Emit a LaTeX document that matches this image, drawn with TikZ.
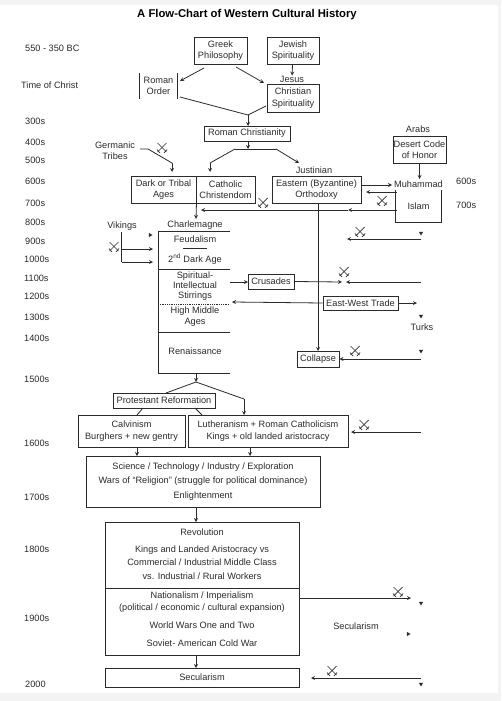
\documentclass[tikz,border=0pt]{standalone}
\usepackage{fontspec}
\setmainfont{Liberation Sans}
\usetikzlibrary{shapes.geometric}
\definecolor{inkc}{HTML}{2B2B2B}
\definecolor{edgec}{HTML}{F3F3F3}
\tikzset{
  lbl/.style={inner sep=0pt, align=center, text=inkc, font=\fontsize{9.2}{11.5}\selectfont},
  yearlbl/.style={lbl, anchor=west},
  box/.style={lbl, rectangle, draw=inkc, line width=0.9pt},
  arr/.style={line width=0.8pt, ->, >=stealth, color=inkc},
  plainline/.style={line width=0.8pt, color=inkc},
  headdown/.style={regular polygon, regular polygon sides=3, minimum size=5pt, inner sep=0pt, fill=inkc, shape border rotate=180},
  headright/.style={headdown, shape border rotate=270},
  swords/.pic={
    \draw [line width=0.7pt, color=inkc] (-4.5pt,5pt) -- (4.5pt,-4pt);
    \draw [line width=0.7pt, color=inkc] (4.5pt,5pt) -- (-4.5pt,-4pt);
    \draw [line width=0.7pt, color=inkc] (-5pt,-1.5pt) -- (-2pt,-5pt);
    \draw [line width=0.7pt, color=inkc] (5pt,-1.5pt) -- (2pt,-5pt);
  }
}
\begin{document}
\begin{tikzpicture}
\useasboundingbox (0pt,0pt) rectangle (501pt,-701pt);
\fill [edgec] (0pt,0pt) rectangle (501pt,-701pt);
\fill [white] (0pt,-5pt) rectangle (498pt,-693pt);
% title and time column
\node (title) [lbl, font=\fontsize{11.3}{13}\selectfont\bfseries, text=black] at (247pt,-15pt) {A Flow-Chart of Western Cultural History};
\node (t550) [yearlbl] at (25pt,-48pt) {550 - 350 BC};
\node (tchrist) [yearlbl] at (21pt,-85pt) {Time of Christ};
\node (t300) [yearlbl] at (25pt,-121pt) {300s};
\node (t400) [yearlbl] at (25pt,-142pt) {400s};
\node (t500) [yearlbl] at (25pt,-160pt) {500s};
\node (t600) [yearlbl] at (25pt,-181pt) {600s};
\node (t700) [yearlbl] at (25pt,-203pt) {700s};
\node (t800) [yearlbl] at (25pt,-222pt) {800s};
\node (t900) [yearlbl] at (25pt,-241pt) {900s};
\node (t1000) [yearlbl] at (24pt,-259pt) {1000s};
\node (t1100) [yearlbl] at (24pt,-278pt) {1100s};
\node (t1200) [yearlbl] at (24pt,-296pt) {1200s};
\node (t1300) [yearlbl] at (24pt,-317pt) {1300s};
\node (t1400) [yearlbl] at (24pt,-338pt) {1400s};
\node (t1500) [yearlbl] at (24pt,-379pt) {1500s};
\node (t1600) [yearlbl] at (24pt,-443pt) {1600s};
\node (t1700) [yearlbl] at (24pt,-497pt) {1700s};
\node (t1800) [yearlbl] at (24pt,-549pt) {1800s};
\node (t1900) [yearlbl] at (24pt,-618pt) {1900s};
\node (t2000) [yearlbl] at (25pt,-684pt) {2000};
\node (r600) [yearlbl] at (456pt,-181pt) {600s};
\node (r700) [yearlbl] at (456pt,-205pt) {700s};
% antiquity
\node (greek) [box, minimum width=53pt, minimum height=27pt] at (220.5pt,-50.5pt) {Greek\\Philosophy};
\node (jewish) [box, minimum width=52pt, minimum height=27pt] at (293pt,-50.5pt) {Jewish\\Spirituality};
\node (jesus) [lbl] at (292pt,-79pt) {Jesus};
\node (christian) [box, minimum width=52pt, minimum height=28pt] at (293pt,-98pt) {Christian\\Spirituality};
\node (romanorder) [lbl, minimum width=37pt, minimum height=26pt] at (158.5pt,-86pt) {Roman\\Order};
\node (romanchr) [box, minimum width=86pt, minimum height=15pt] at (247pt,-133.5pt) {Roman Christianity};
\node (germanic) [lbl] at (115pt,-150.5pt) {Germanic\\Tribes};
\node (justinian) [lbl] at (314pt,-170pt) {Justinian};
\node (dark) [box, minimum width=65pt, minimum height=27pt] at (163.5pt,-189.5pt) {Dark or Tribal\\Ages};
\node (catholic) [box, minimum width=59pt, minimum height=27pt] at (225.5pt,-189.5pt) {Catholic\\Christendom};
\node (eastern) [box, minimum width=89pt, minimum height=27pt] at (316.5pt,-189.5pt) {Eastern (Byzantine)\\Orthodoxy};
\node (arabs) [lbl] at (418pt,-129pt) {Arabs};
\node (desert) [box, minimum width=53pt, minimum height=27pt] at (419.5pt,-149.5pt) {Desert Code\\of Honor};
\node (muhammad) [lbl] at (418.5pt,-184pt) {Muhammad};
\node (islam) [lbl, minimum width=45pt, minimum height=32pt] at (418.5pt,-206pt) {Islam};
% middle ages
\node (charlemagne) [lbl] at (195pt,-225pt) {Charlemagne};
\node (vikings) [lbl] at (122pt,-226pt) {Vikings};
\node (feudalism) [lbl] at (195pt,-239pt) {Feudalism};
\node (darkage) [lbl] at (195pt,-259pt) {2\textsuperscript{nd} Dark Age};
\node (stirrings) [lbl, font=\fontsize{9.2}{10}\selectfont] at (195pt,-286pt) {Spiritual-\\Intellectual\\Stirrings};
\node (highma) [lbl] at (195pt,-316.5pt) {High Middle\\Ages};
\node (renaissance) [lbl] at (195pt,-351pt) {Renaissance};
\node (crusades) [box, minimum width=46pt, minimum height=15pt] at (271pt,-281.5pt) {Crusades};
\node (trade) [box, minimum width=75pt, minimum height=14pt] at (360.5pt,-303pt) {East-West Trade};
\node (turks) [lbl] at (422pt,-327pt) {Turks};
\node (collapse) [box, minimum width=42pt, minimum height=16pt] at (318pt,-359pt) {Collapse};
% modern
\node (protestant) [box, minimum width=102pt, minimum height=15pt] at (164pt,-400.5pt) {Protestant Reformation};
\node (calvinism) [box, minimum width=107pt, minimum height=32pt] at (131.5pt,-431pt) {Calvinism\\Burghers + new gentry};
\node (lutheranism) [box, minimum width=160pt, minimum height=32pt] at (268pt,-431pt) {Lutheranism + Roman Catholicism\\Kings + old landed aristocracy};
\node (science) [box, minimum width=234pt, minimum height=51pt, font=\fontsize{9.2}{14.5}\selectfont] at (203pt,-481.5pt) {Science / Technology / Industry / Exploration\\Wars of ``Religion'' (struggle for political dominance)\\Enlightenment};
\node (revolution) [box, minimum width=194pt, minimum height=66pt] at (202pt,-555pt) {};
\node (revtext) [lbl] at (202pt,-532pt) {Revolution};
\node (kings) [lbl, font=\fontsize{9.2}{13.5}\selectfont] at (202pt,-562.5pt) {Kings and Landed Aristocracy vs\\Commercial / Industrial Middle Class\\vs. Industrial / Rural Workers};
\node (nationalism) [box, minimum width=194pt, minimum height=67pt] at (202pt,-621.5pt) {};
\node (nattext) [lbl] at (202pt,-602pt) {Nationalism / Imperialism\\(political / economic / cultural expansion)};
\node (wars) [lbl] at (202pt,-625pt) {World Wars One and Two};
\node (soviet) [lbl] at (202pt,-643pt) {Soviet- American Cold War};
\node (secbox) [box, minimum width=194pt, minimum height=19pt] at (202pt,-677.5pt) {Secularism};
\node (secular) [lbl] at (356pt,-626pt) {Secularism};
% loose arrow heads
\node (headA) [headdown] at (421pt,-233pt) {};
\node (headB) [headdown] at (421pt,-316pt) {};
\node (headC) [headdown] at (421pt,-351pt) {};
\node (headD) [headdown] at (421pt,-603pt) {};
\node (headE) [headdown] at (421pt,-684pt) {};
\node (headF) [headright] at (408pt,-634pt) {};
\node (headG) [headright] at (150pt,-235pt) {};
% free ends of connectors
\coordinate (romanbend) at (248pt,-115pt);
\coordinate (romantop) at (248pt,-126pt);
\coordinate (forkmid) at (248pt,-149pt);
\coordinate (forkleft) at (235pt,-149pt);
\coordinate (forkright) at (276pt,-149pt);
\coordinate (catend) at (210pt,-163pt);
\coordinate (cattip) at (210pt,-172pt);
\coordinate (justtip) at (299pt,-163pt);
\coordinate (germA) at (140pt,-149pt);
\coordinate (germB) at (148pt,-149pt);
\coordinate (germC) at (172pt,-163pt);
\coordinate (germD) at (172pt,-172pt);
\coordinate (darkdown) at (196pt,-219pt);
\coordinate (desertdown) at (419.5pt,-179pt);
\coordinate (eastA) at (361pt,-185pt);
\coordinate (eastB) at (392pt,-185pt);
\coordinate (islamA) at (396.5pt,-192pt);
\coordinate (islamB) at (366pt,-192pt);
\coordinate (islamC) at (396.5pt,-210pt);
\coordinate (islamD) at (348pt,-210pt);
\coordinate (islamE) at (201pt,-210pt);
\coordinate (eastdownA) at (318pt,-203pt);
\coordinate (eastdownB) at (318pt,-351pt);
\coordinate (medNE) at (230pt,-231pt);
\coordinate (medNW) at (158pt,-231pt);
\coordinate (medSW) at (158pt,-373pt);
\coordinate (medSE) at (230pt,-373pt);
\coordinate (medAw) at (158pt,-269.5pt);
\coordinate (medAe) at (230pt,-269.5pt);
\coordinate (medBw) at (158pt,-304pt);
\coordinate (medBe) at (230pt,-304pt);
\coordinate (medCw) at (158pt,-332pt);
\coordinate (medCe) at (230pt,-332pt);
\coordinate (feudA) at (183pt,-248pt);
\coordinate (feudB) at (207pt,-248pt);
\coordinate (vikA) at (121.5pt,-232pt);
\coordinate (vikB) at (121.5pt,-249pt);
\coordinate (vikC) at (121.5pt,-262pt);
\coordinate (vikD) at (153pt,-249pt);
\coordinate (vikE) at (153pt,-262pt);
\coordinate (medout) at (230pt,-282pt);
\coordinate (cruin) at (248pt,-282pt);
\coordinate (cruout) at (342pt,-282pt);
\coordinate (cruR) at (421pt,-282pt);
\coordinate (cruL) at (346pt,-282pt);
\coordinate (tradeW) at (232pt,-302pt);
\coordinate (tradeE) at (417pt,-303pt);
\coordinate (sideAr) at (421pt,-239pt);
\coordinate (sideAl) at (347pt,-239pt);
\coordinate (sideBr) at (421pt,-359pt);
\coordinate (sideCr) at (421pt,-432pt);
\coordinate (sideCl) at (351pt,-432pt);
\coordinate (sideDr) at (421pt,-678pt);
\coordinate (sideDl) at (311pt,-678pt);
\coordinate (renout) at (196pt,-373pt);
\coordinate (renfork) at (196pt,-382pt);
\coordinate (protin) at (166pt,-393pt);
\coordinate (lutbend) at (244pt,-399pt);
\coordinate (luttip) at (244pt,-415pt);
\coordinate (protA) at (143pt,-408pt);
\coordinate (protB) at (137pt,-415pt);
\coordinate (protC) at (195pt,-408pt);
\coordinate (protD) at (202pt,-415pt);
\coordinate (calout) at (137pt,-447pt);
\coordinate (calin) at (137pt,-456pt);
\coordinate (lutout) at (250pt,-447pt);
\coordinate (lutin) at (250pt,-456pt);
\coordinate (sciout) at (196pt,-507pt);
\coordinate (sciin) at (196pt,-522pt);
\coordinate (natout) at (196pt,-655pt);
\coordinate (natin) at (196pt,-668pt);
\coordinate (natE) at (299pt,-598pt);
\coordinate (natR) at (411pt,-598pt);
\coordinate (greekL) at (204pt,-68pt);
\coordinate (orderin) at (180pt,-81pt);
\coordinate (greekR) at (236pt,-67pt);
\coordinate (christin) at (264pt,-83pt);
\coordinate (orderout) at (180pt,-97pt);
\coordinate (christout) at (266pt,-106pt);
% connectors
\draw [arr] (greekL) to (orderin);
\draw [arr] (greekR) to (christin);
\draw [arr] (jewish) to (jesus);
\draw [plainline] (orderout) to (romanbend);
\draw [plainline] (christout) to (romanbend);
\draw [arr] (romanbend) to (romantop);
\draw [arr] (romanchr.south -| forkmid) to (forkmid);
\draw [plainline] (forkleft) to (forkright);
\draw [plainline] (forkleft) to (catend);
\draw [arr] (catend) to (cattip);
\draw [arr] (forkright) to (justtip);
\draw [plainline] (germA) to (germB) to (germC);
\draw [arr] (germC) to (germD);
\draw [arr] (dark.south east) to (darkdown);
\draw [arr] (desert) to (desertdown);
\draw [arr] (eastA) to (eastB);
\draw [arr] (islamA) to (islamB);
\draw [arr] (islamC) to (islamD);
\draw [arr] (islamD) to (islamE);
\draw [arr] (eastdownA) to (eastdownB);
\draw [plainline] (islam.north west) -- (islam.south west) -- (islam.south east) -- (islam.north east);
\draw [plainline] (romanorder.north west) -- (romanorder.south west);
\draw [plainline] (romanorder.north east) -- (romanorder.south east);
\draw [plainline] (medNE) -- (medNW) -- (medSW) -- (medSE);
\draw [plainline, line width=1.1pt] (medAw) -- (medAe);
\draw [plainline, densely dotted] (medBw) -- (medBe);
\draw [plainline] (medCw) -- (medCe);
\draw [plainline] (feudA) -- (feudB);
\draw [plainline] (vikA) -- (vikC);
\draw [arr] (vikB) to (vikD);
\draw [arr] (vikC) to (vikE);
\draw [arr] (medout) to (cruin);
\draw [arr] (crusades.east) to (cruout);
\draw [arr] (cruR) to (cruL);
\draw [arr] (trade.west) to (tradeW);
\draw [arr] (trade.east) to (tradeE);
\draw [arr] (sideAr) to (sideAl);
\draw [arr] (sideBr) to (collapse.east);
\draw [arr] (sideCr) to (sideCl);
\draw [arr] (sideDr) to (sideDl);
\draw [arr] (renout) to (renfork);
\draw [plainline] (renfork) to (protin);
\draw [plainline] (renfork) to (lutbend);
\draw [arr] (lutbend) to (luttip);
\draw [plainline] (protA) to (protB);
\draw [plainline] (protC) to (protD);
\draw [arr] (calout) to (calin);
\draw [arr] (lutout) to (lutin);
\draw [arr] (sciout) to (sciin);
\draw [arr] (natout) to (natin);
\draw [arr] (natE) to (natR);
% crossed swords
\pic at (162pt,-148pt) {swords};
\pic at (263pt,-203pt) {swords};
\pic at (382pt,-201pt) {swords};
\pic at (360pt,-232pt) {swords};
\pic at (114pt,-247pt) {swords};
\pic at (344pt,-272pt) {swords};
\pic at (355pt,-351pt) {swords};
\pic at (364pt,-425pt) {swords};
\pic at (398pt,-592pt) {swords};
\pic at (332pt,-671pt) {swords};
\end{tikzpicture}
\end{document}
